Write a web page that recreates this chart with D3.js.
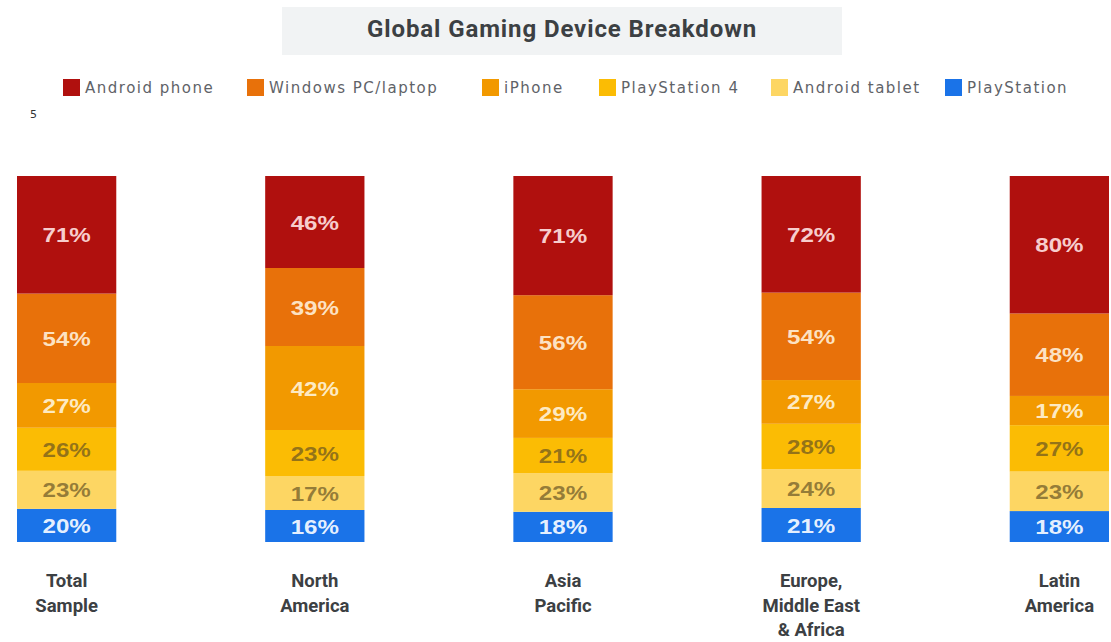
<!DOCTYPE html>
<html><head><meta charset="utf-8">
<script src="https://cdn.jsdelivr.net/npm/d3@7"></script>
<style>body{margin:0;background:#fff;}svg{display:block;}</style>
</head><body>
<svg id="c" width="1111" height="642"></svg>
<script>
const categories = [["Total","Sample"],["North","America"],["Asia","Pacific"],["Europe,","Middle East","& Africa"],["Latin","America"]];
const seriesNames = ["PlayStation","Android tablet","PlayStation 4","iPhone","Windows PC/laptop","Android phone"];
const playstation   = [20,16,18,21,18];
const androidTablet = [23,17,23,24,23];
const playstation4  = [26,23,21,28,27];
const iphone        = [27,42,29,27,17];
const windowsPC     = [54,39,56,54,48];
const androidPhone  = [71,46,71,72,80];
const legendOrder = ["Android phone","Windows PC/laptop","iPhone","PlayStation 4","Android tablet","PlayStation"];
const titleText = "Global Gaming Device Breakdown";

const colors = {"Android phone":"#b0100e","Windows PC/laptop":"#e8710a","iPhone":"#f29900","PlayStation 4":"#fbbc04","Android tablet":"#fdd663","PlayStation":"#1a73e8"};
const labelColors = {"Android phone":"rgba(255,225,225,0.92)","Windows PC/laptop":"rgba(255,238,215,0.92)","iPhone":"rgba(255,243,215,0.92)","PlayStation 4":"rgba(120,95,30,0.78)","Android tablet":"rgba(120,100,45,0.78)","PlayStation":"rgba(235,243,255,0.97)"};

const seriesVals = [playstation, androidTablet, playstation4, iphone, windowsPC, androidPhone];
const keys = categories.map((c,i)=>i);
const rows = keys.map(i=>{const r={i}; seriesNames.forEach((s,k)=>r[s]=seriesVals[k][i]); return r;});
const stack = d3.stack().keys(seriesNames).offset(d3.stackOffsetExpand);
const stacked = stack(rows);

const svg = d3.select("#c");
const x = d3.scaleBand().domain(keys).range([17,1109]).paddingInner(0.6).paddingOuter(0);
const y = d3.scaleLinear().domain([0,1]).range([542,176]);

// title
svg.append("rect").attr("x",282).attr("y",7).attr("width",560).attr("height",48).attr("fill","#f1f3f4");
svg.append("text").attr("x",562).attr("y",37).attr("text-anchor","middle")
  .attr("font-family","Roboto, sans-serif").attr("font-weight","bold").attr("font-size",24).attr("letter-spacing",0.9)
  .attr("fill","#3c4043").text(titleText);

// legend
const legendX = [63,247,482,599,771,945];
const lg = svg.append("g");
legendOrder.forEach((s,k)=>{
  lg.append("rect").attr("x",legendX[k]).attr("y",79).attr("width",17).attr("height",17).attr("fill",colors[s]);
  lg.append("text").attr("x",legendX[k]+22).attr("y",93).attr("font-family","DejaVu Sans, sans-serif")
    .attr("font-size",15).attr("fill","#5f6368").attr("letter-spacing",1.5).text(s);
});
svg.append("text").attr("x",30).attr("y",118).attr("font-family","DejaVu Sans, sans-serif").attr("font-size",11).attr("fill","#333").text("5");

// bars
const layers = svg.append("g").selectAll("g").data(stacked).join("g").attr("fill",d=>colors[d.key]);
layers.selectAll("rect").data(d=>d).join("rect")
  .attr("x",d=>x(d.data.i)).attr("width",x.bandwidth())
  .attr("y",d=>y(d[1])).attr("height",d=>y(d[0])-y(d[1]));

const lab = svg.append("g").selectAll("g").data(stacked).join("g");
lab.selectAll("text").data(d=>d.map(p=>({p,key:d.key}))).join("text")
  .attr("transform",d=>`translate(${x(d.p.data.i)+x.bandwidth()/2},${(y(d.p[0])+y(d.p[1]))/2}) scale(1.15,1)`)
  .attr("dy","0.36em").attr("text-anchor","middle")
  .attr("font-family","Liberation Sans, Arial, sans-serif").attr("font-weight","bold").attr("font-size",21)
  .attr("fill",d=>labelColors[d.key])
  .text(d=>d.p.data[d.key]+"%");

// category labels
const cat = svg.append("g");
categories.forEach((lines,i)=>{
  const t = cat.append("text").attr("text-anchor","middle").attr("font-family","Roboto, sans-serif")
    .attr("font-weight","bold").attr("font-size",18.5).attr("fill","#3c4043");
  lines.forEach((l,j)=>t.append("tspan").attr("x",x(i)+x.bandwidth()/2).attr("y",587+j*24.5).text(l));
});
</script>
</body></html>
